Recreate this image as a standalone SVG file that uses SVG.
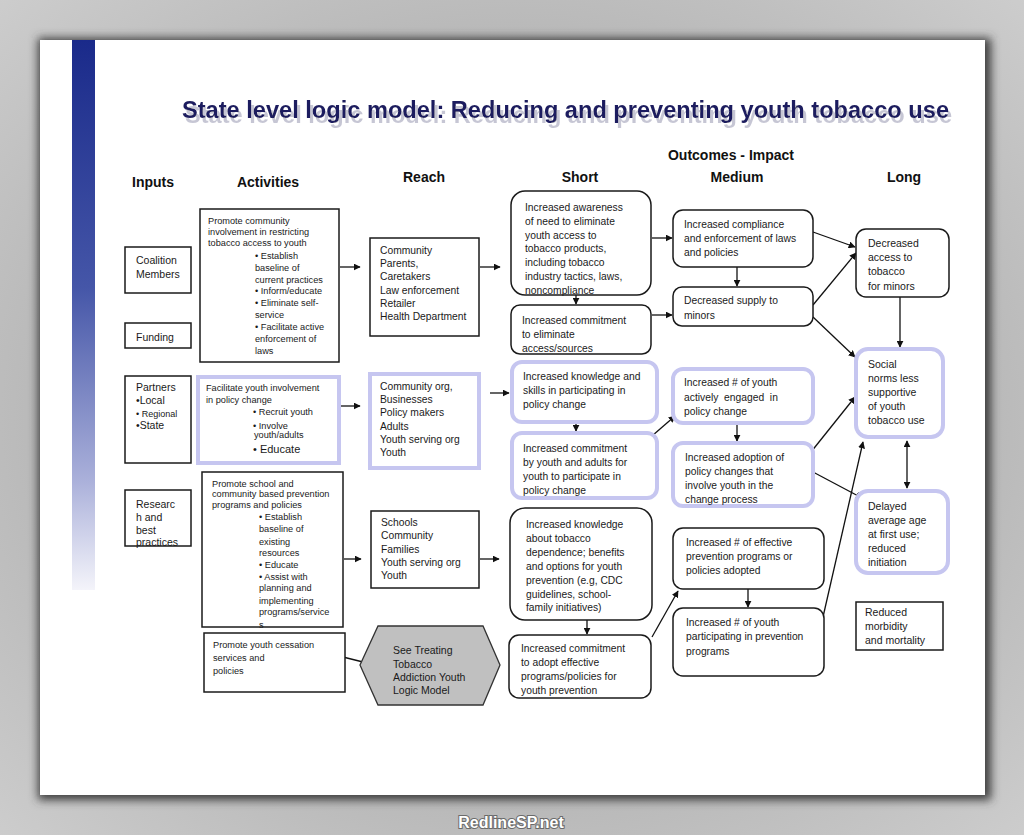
<svg xmlns="http://www.w3.org/2000/svg" width="1024" height="835" viewBox="0 0 1024 835">
<defs>
<linearGradient id="bar" x1="0" y1="0" x2="0" y2="1">
<stop offset="0" stop-color="#1a2a8a"/>
<stop offset="0.45" stop-color="#4556a8"/>
<stop offset="0.8" stop-color="#aab0da"/>
<stop offset="1" stop-color="#f4f4fa"/>
</linearGradient>
<radialGradient id="bgg" cx="0.5" cy="0.5" r="0.75">
<stop offset="0.6" stop-color="#b8b8b8"/>
<stop offset="1" stop-color="#d0d0d0"/>
</radialGradient>
<filter id="blur" x="-5%" y="-5%" width="110%" height="110%"><feGaussianBlur stdDeviation="5"/></filter>
<filter id="tsh" x="-2%" y="-30%" width="104%" height="180%">
<feOffset in="SourceAlpha" dx="3" dy="5" result="o"/>
<feFlood flood-color="#c6c6d4" result="f"/>
<feComposite in="f" in2="o" operator="in" result="s"/>
<feMerge><feMergeNode in="s"/><feMergeNode in="SourceGraphic"/></feMerge>
</filter>
<marker id="ah" viewBox="0 0 10 10" refX="9" refY="5" markerWidth="7" markerHeight="7" markerUnits="userSpaceOnUse" orient="auto-start-reverse">
<path d="M0,0 L10,5 L0,10 z" fill="#111"/>
</marker>
<style>
.bx{fill:#fff;stroke:#1a1a1a;stroke-width:1.5}
.lv{fill:#fff;stroke:#c6c6f0;stroke-width:4}
.t{font-family:"Liberation Sans",Arial,sans-serif;font-size:10.3px;fill:#1a1a1a}
.ta{font-size:9.2px}
.ti{font-size:10.5px}
.tl{font-size:10.5px}
.hd{font-family:"Liberation Sans",Arial,sans-serif;font-size:14px;font-weight:bold;fill:#111;text-anchor:middle}
.c{stroke:#111;stroke-width:1.3;fill:none}
.ca{stroke:#111;stroke-width:1.3;fill:none;marker-end:url(#ah)}
</style>
</defs>

<rect x="0" y="0" width="1024" height="835" fill="url(#bgg)"/>
<rect x="38" y="38" width="953" height="762" fill="#3c3c3c" filter="url(#blur)"/>
<rect x="40" y="40" width="945" height="755" fill="#ffffff"/>
<rect x="72" y="40" width="23" height="550" fill="url(#bar)"/>

<g id="title">
<text x="182" y="118" font-family="Liberation Sans,Arial,sans-serif" font-size="23" font-weight="bold" fill="#1f1f5e" textLength="767" lengthAdjust="spacingAndGlyphs" filter="url(#tsh)">State level logic model: Reducing and preventing youth tobacco use</text>
</g>

<g id="headers">
<text class="hd" x="731" y="160">Outcomes - Impact</text>
<text class="hd" x="153" y="187">Inputs</text>
<text class="hd" x="268" y="187">Activities</text>
<text class="hd" x="424" y="182">Reach</text>
<text class="hd" x="580" y="182">Short</text>
<text class="hd" x="737" y="182">Medium</text>
<text class="hd" x="904" y="182">Long</text>
</g>

<g id="connectors">
<line class="ca" x1="340" y1="267" x2="360" y2="267"/>
<line class="ca" x1="480" y1="267" x2="500" y2="267"/>
<line class="ca" x1="340" y1="406" x2="360" y2="406"/>
<line class="ca" x1="490" y1="393" x2="509" y2="393"/>
<line class="ca" x1="344" y1="559" x2="361" y2="559"/>
<line class="ca" x1="480" y1="559" x2="499" y2="559"/>
<line class="c" x1="339" y1="656" x2="363" y2="662"/>
<line class="ca" x1="576" y1="294" x2="576" y2="304"/>
<line class="ca" x1="652" y1="238" x2="672" y2="238"/>
<line class="ca" x1="652" y1="315" x2="672" y2="315"/>
<line class="ca" x1="576" y1="422" x2="576" y2="431"/>
<line class="ca" x1="645" y1="442" x2="675" y2="416"/>
<line class="ca" x1="587" y1="620" x2="587" y2="634"/>
<line class="ca" x1="652" y1="637" x2="678" y2="591"/>
<line class="ca" x1="737" y1="267" x2="737" y2="286"/>
<line class="ca" x1="737" y1="423" x2="737" y2="441"/>
<line class="ca" x1="748" y1="589" x2="748" y2="607"/>
<line class="ca" x1="813" y1="232" x2="855" y2="247"/>
<line class="ca" x1="813" y1="305" x2="856" y2="253"/>
<line class="ca" x1="813" y1="317" x2="855" y2="357"/>
<line class="ca" x1="803" y1="462" x2="855" y2="397"/>
<line class="ca" x1="813" y1="472" x2="862" y2="498"/>
<line class="ca" x1="823" y1="617" x2="863" y2="442"/>
<line class="ca" x1="900" y1="297" x2="900" y2="347"/>
<line class="ca" x1="907" y1="441" x2="907" y2="488" marker-start="url(#ah)"/>
</g>

<g id="in-coalition">
<rect class="bx" x="125" y="247" width="66" height="46"/>
<text class="t ti"><tspan x="136" y="264">Coalition</tspan><tspan x="136" y="278">Members</tspan></text>
</g>
<g id="in-funding">
<rect class="bx" x="125" y="323" width="66" height="25"/>
<text class="t ti" x="136" y="341">Funding</text>
</g>
<g id="in-partners">
<rect class="bx" x="125" y="376" width="66" height="87"/>
<text class="t ti"><tspan x="136" y="391">Partners</tspan><tspan x="136" y="404">•Local</tspan><tspan x="136" y="417" font-size="9">• Regional</tspan><tspan x="136" y="429">•State</tspan></text>
</g>
<g id="in-research">
<rect class="bx" x="125" y="490" width="66" height="56"/>
<text class="t ti"><tspan x="136" y="508">Researc</tspan><tspan x="136" y="521">h and</tspan><tspan x="136" y="534">best</tspan><tspan x="136" y="546">practices</tspan></text>
</g>

<g id="act-community">
<rect class="bx" x="200" y="209" width="139" height="153"/>
<text class="t ta"><tspan x="208" y="224">Promote community</tspan><tspan x="208" y="235">involvement in restricting</tspan><tspan x="208" y="246">tobacco access to youth</tspan><tspan x="255" y="259">• Establish</tspan><tspan x="255" y="271">baseline of</tspan><tspan x="255" y="283">current practices</tspan><tspan x="255" y="294">• Inform/educate</tspan><tspan x="255" y="306">• Eliminate self-</tspan><tspan x="255" y="318">service</tspan><tspan x="255" y="330">• Facilitate active</tspan><tspan x="255" y="342">enforcement of</tspan><tspan x="255" y="354">laws</tspan></text>
</g>
<g id="act-youth">
<rect class="lv" x="198" y="377" width="141" height="86"/>
<text class="t ta"><tspan x="206" y="391">Facilitate youth involvement</tspan><tspan x="206" y="403">in policy change</tspan><tspan x="253" y="415">• Recruit youth</tspan><tspan x="253" y="429">• Involve</tspan><tspan x="254" y="438">youth/adults</tspan><tspan x="253" y="453" font-size="11">• Educate</tspan></text>
</g>
<g id="act-school">
<rect class="bx" x="202" y="472" width="141" height="155"/>
<text class="t ta"><tspan x="212" y="487">Promote school and</tspan><tspan x="212" y="497">community based prevention</tspan><tspan x="212" y="508">programs and policies</tspan><tspan x="259" y="520">• Establish</tspan><tspan x="259" y="532">baseline of</tspan><tspan x="259" y="545">existing</tspan><tspan x="259" y="556">resources</tspan><tspan x="259" y="568">• Educate</tspan><tspan x="259" y="580">• Assist with</tspan><tspan x="259" y="591">planning and</tspan><tspan x="259" y="604">implementing</tspan><tspan x="259" y="615">programs/service</tspan><tspan x="259" y="628">s</tspan></text>
</g>
<g id="act-cessation">
<rect class="bx" x="204" y="633" width="141" height="59"/>
<text class="t ta"><tspan x="213" y="648">Promote youth cessation</tspan><tspan x="213" y="661">services and</tspan><tspan x="213" y="674">policies</tspan></text>
</g>

<g id="reach-community">
<rect class="bx" x="370" y="238" width="109" height="98"/>
<text class="t"><tspan x="380" y="254">Community</tspan><tspan x="380" y="267">Parents,</tspan><tspan x="380" y="280">Caretakers</tspan><tspan x="380" y="294">Law enforcement</tspan><tspan x="380" y="307">Retailer</tspan><tspan x="380" y="320">Health Department</tspan></text>
</g>
<g id="reach-org">
<rect class="lv" x="370" y="374" width="109" height="94"/>
<text class="t"><tspan x="380" y="390">Community org,</tspan><tspan x="380" y="403">Businesses</tspan><tspan x="380" y="416">Policy makers</tspan><tspan x="380" y="430">Adults</tspan><tspan x="380" y="443">Youth serving org</tspan><tspan x="380" y="456">Youth</tspan></text>
</g>
<g id="reach-schools">
<rect class="bx" x="371" y="511" width="108" height="77"/>
<text class="t"><tspan x="381" y="526">Schools</tspan><tspan x="381" y="539">Community</tspan><tspan x="381" y="553">Families</tspan><tspan x="381" y="566">Youth serving org</tspan><tspan x="381" y="579">Youth</tspan></text>
</g>
<g id="reach-treating">
<polygon points="360,665 378,626 483,626 500,665 483,705 378,705" fill="#c0c0c0" stroke="#333" stroke-width="1.3"/>
<text class="t ti"><tspan x="393" y="654">See Treating</tspan><tspan x="393" y="668">Tobacco</tspan><tspan x="393" y="681">Addiction Youth</tspan><tspan x="393" y="694">Logic Model</tspan></text>
</g>

<g id="short-awareness">
<rect class="bx" x="511" y="191" width="140" height="104" rx="14"/>
<text class="t"><tspan x="525" y="211">Increased awareness</tspan><tspan x="525" y="225">of need to eliminate</tspan><tspan x="525" y="239">youth access to</tspan><tspan x="525" y="252">tobacco products,</tspan><tspan x="525" y="266">including tobacco</tspan><tspan x="525" y="280">industry tactics, laws,</tspan><tspan x="525" y="294">noncompliance</tspan></text>
</g>
<g id="short-commit-access">
<rect class="bx" x="511" y="305" width="140" height="49" rx="9"/>
<text class="t"><tspan x="522" y="324">Increased commitment</tspan><tspan x="522" y="338">to eliminate</tspan><tspan x="522" y="352">access/sources</tspan></text>
</g>
<g id="short-skills">
<rect class="lv" x="512" y="362" width="145" height="60" rx="10"/>
<text class="t"><tspan x="523" y="380">Increased knowledge and</tspan><tspan x="523" y="394">skills in participating in</tspan><tspan x="523" y="408">policy change</tspan></text>
</g>
<g id="short-commit-youth">
<rect class="lv" x="512" y="433" width="145" height="65" rx="10"/>
<text class="t"><tspan x="523" y="452">Increased commitment</tspan><tspan x="523" y="466">by youth and adults for</tspan><tspan x="523" y="480">youth to participate in</tspan><tspan x="523" y="494">policy change</tspan></text>
</g>
<g id="short-knowledge">
<rect class="bx" x="510" y="508" width="142" height="112" rx="15"/>
<text class="t"><tspan x="526" y="528">Increased knowledge</tspan><tspan x="526" y="542">about tobacco</tspan><tspan x="526" y="556">dependence; benefits</tspan><tspan x="526" y="570">and options for youth</tspan><tspan x="526" y="584">prevention (e.g, CDC</tspan><tspan x="526" y="598">guidelines, school-</tspan><tspan x="526" y="611">family initiatives)</tspan></text>
</g>
<g id="short-commit-adopt">
<rect class="bx" x="509" y="635" width="142" height="63" rx="10"/>
<text class="t"><tspan x="521" y="652">Increased commitment</tspan><tspan x="521" y="666">to adopt effective</tspan><tspan x="521" y="680">programs/policies for</tspan><tspan x="521" y="694">youth prevention</tspan></text>
</g>

<g id="med-compliance">
<rect class="bx" x="673" y="210" width="140" height="57" rx="10"/>
<text class="t"><tspan x="684" y="228">Increased compliance</tspan><tspan x="684" y="242">and enforcement of laws</tspan><tspan x="684" y="256">and policies</tspan></text>
</g>
<g id="med-supply">
<rect class="bx" x="673" y="287" width="140" height="39" rx="9"/>
<text class="t"><tspan x="684" y="304">Decreased supply to</tspan><tspan x="684" y="319">minors</tspan></text>
</g>
<g id="med-engaged">
<rect class="lv" x="673" y="369" width="140" height="54" rx="10"/>
<text class="t"><tspan x="684" y="386">Increased # of youth</tspan><tspan x="684" y="401" xml:space="preserve">actively  engaged  in</tspan><tspan x="684" y="415">policy change</tspan></text>
</g>
<g id="med-adoption">
<rect class="lv" x="673" y="443" width="140" height="63" rx="10"/>
<text class="t"><tspan x="685" y="461">Increased adoption of</tspan><tspan x="685" y="475">policy changes that</tspan><tspan x="685" y="489">involve youth in the</tspan><tspan x="685" y="503">change process</tspan></text>
</g>
<g id="med-programs">
<rect class="bx" x="673" y="528" width="151" height="61" rx="10"/>
<text class="t"><tspan x="686" y="546">Increased # of effective</tspan><tspan x="686" y="560">prevention programs or</tspan><tspan x="686" y="574">policies adopted</tspan></text>
</g>
<g id="med-participating">
<rect class="bx" x="673" y="608" width="151" height="68" rx="10"/>
<text class="t"><tspan x="686" y="626">Increased # of youth</tspan><tspan x="686" y="640">participating in prevention</tspan><tspan x="686" y="655">programs</tspan></text>
</g>

<g id="long-access">
<rect class="bx" x="856" y="229" width="93" height="68" rx="10"/>
<text class="t tl"><tspan x="868" y="247">Decreased</tspan><tspan x="868" y="261">access to</tspan><tspan x="868" y="275">tobacco</tspan><tspan x="868" y="290">for minors</tspan></text>
</g>
<g id="long-norms">
<rect class="lv" x="856" y="349" width="87" height="88" rx="12"/>
<text class="t tl"><tspan x="868" y="368">Social</tspan><tspan x="868" y="382">norms less</tspan><tspan x="868" y="396">supportive</tspan><tspan x="868" y="410">of youth</tspan><tspan x="868" y="424">tobacco use</tspan></text>
</g>
<g id="long-delayed">
<rect class="lv" x="856" y="491" width="92" height="82" rx="12"/>
<text class="t tl"><tspan x="868" y="510">Delayed</tspan><tspan x="868" y="524">average age</tspan><tspan x="868" y="538">at first use;</tspan><tspan x="868" y="552">reduced</tspan><tspan x="868" y="566">initiation</tspan></text>
</g>
<g id="long-morbidity">
<rect class="bx" x="856" y="602" width="87" height="48"/>
<text class="t tl"><tspan x="865" y="616">Reduced</tspan><tspan x="865" y="630">morbidity</tspan><tspan x="865" y="644">and mortality</tspan></text>
</g>

<text x="511" y="828" font-family="Liberation Sans,Arial,sans-serif" font-size="16" font-weight="bold" fill="#ffffff" stroke="#6a6a6a" stroke-width="2" paint-order="stroke" text-anchor="middle">RedlineSP.net</text>
</svg>
